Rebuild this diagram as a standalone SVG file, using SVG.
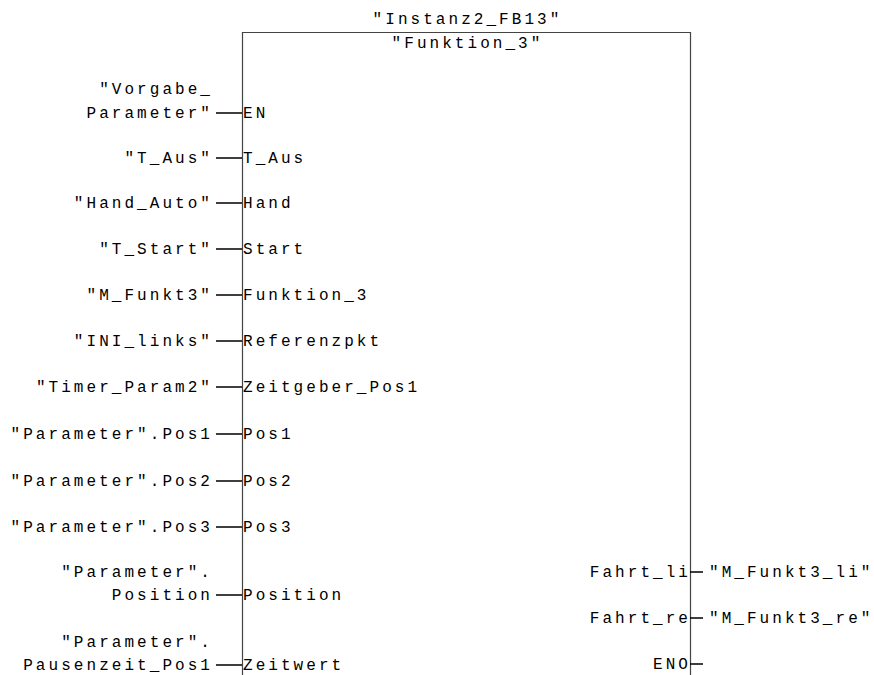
<svg xmlns="http://www.w3.org/2000/svg" width="874" height="675" viewBox="0 0 874 675">
<style>
text{font-family:"Liberation Mono","Courier New",monospace;font-size:16px;letter-spacing:3.05px;fill:#000}
.r{text-anchor:end}
.c{text-anchor:middle}
.box{stroke:#444;stroke-width:1.2;fill:none}
.w{stroke:#000;stroke-width:1.4;fill:none}
</style>
<rect width="874" height="675" fill="#fff"/>
<g id="block">
<path class="box" d="M242.5,676 V32.5 H690.5 V676"/>
<text class="c" x="467.5" y="24">"Instanz2_FB13"</text>
<text class="c" x="467.5" y="48">"Funktion_3"</text>
</g>
<g id="pins">
<text x="243" y="118">EN</text>
<text x="243" y="163">T_Aus</text>
<text x="243" y="208">Hand</text>
<text x="243" y="254">Start</text>
<text x="243" y="300">Funktion_3</text>
<text x="243" y="346">Referenzpkt</text>
<text x="243" y="392">Zeitgeber_Pos1</text>
<text x="243" y="439">Pos1</text>
<text x="243" y="486">Pos2</text>
<text x="243" y="532">Pos3</text>
<text x="243" y="600">Position</text>
<text x="243" y="670">Zeitwert</text>
<text class="r" x="691" y="577">Fahrt_li</text>
<text class="r" x="691" y="623">Fahrt_re</text>
<text class="r" x="691" y="669">ENO</text>
</g>
<g id="operands">
<text class="r" x="213" y="94">"Vorgabe_</text>
<text class="r" x="213" y="118">Parameter"</text>
<text class="r" x="213" y="163">"T_Aus"</text>
<text class="r" x="213" y="208">"Hand_Auto"</text>
<text class="r" x="213" y="254">"T_Start"</text>
<text class="r" x="213" y="300">"M_Funkt3"</text>
<text class="r" x="213" y="346">"INI_links"</text>
<text class="r" x="213" y="392">"Timer_Param2"</text>
<text class="r" x="213" y="439">"Parameter".Pos1</text>
<text class="r" x="213" y="486">"Parameter".Pos2</text>
<text class="r" x="213" y="532">"Parameter".Pos3</text>
<text class="r" x="213" y="577">"Parameter".</text>
<text class="r" x="213" y="600">Position</text>
<text class="r" x="213" y="647">"Parameter".</text>
<text class="r" x="213" y="670">Pausenzeit_Pos1</text>
<text x="709" y="577">"M_Funkt3_li"</text>
<text x="709" y="623">"M_Funkt3_re"</text>
</g>
<g id="connectors">
<path class="w" d="M216,113H242 M216,158H242 M216,203H242 M216,249H242 M216,295H242 M216,341H242 M216,387H242 M216,434H242 M216,481H242 M216,527H242 M216,595H242 M216,665H242 M690,572H703 M690,618H703 M690,664H703"/>
</g>
</svg>
